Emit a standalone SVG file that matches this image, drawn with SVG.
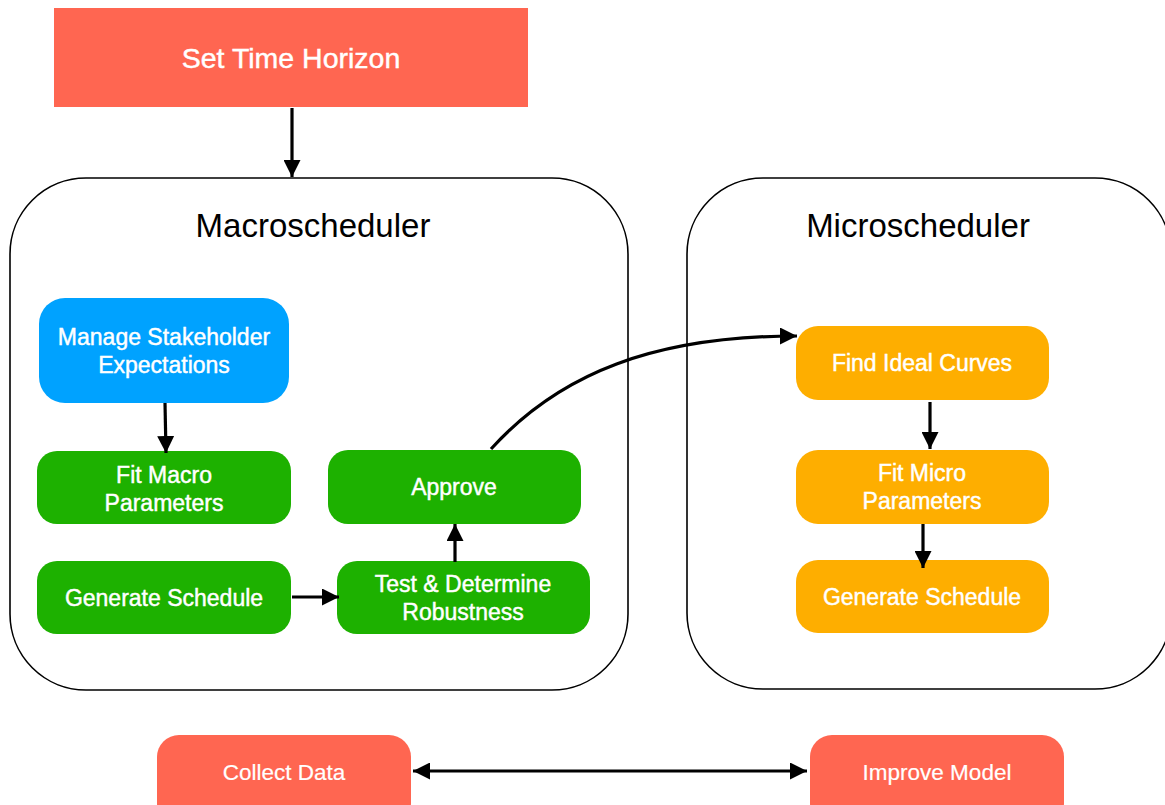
<svg xmlns="http://www.w3.org/2000/svg" width="1165" height="805" viewBox="0 0 1165 805">
  <style>
    .lbl { font-family: "Liberation Sans", Arial, sans-serif; font-size: 23px; fill: #ffffff; stroke: #ffffff; stroke-width: 0.45; text-anchor: middle; }
    .big { font-size: 28.5px; }
    .small { font-size: 22.5px; stroke-width: 0.2; }
    .title { font-family: "Liberation Sans", Arial, sans-serif; font-size: 33px; fill: #000000; text-anchor: middle; }
    .frame { fill: none; stroke: #000000; stroke-width: 1.6; }
    .green { fill: #1DB100; }
    .blue { fill: #00A2FF; }
    .orange { fill: #FEAE00; }
    .red { fill: #FF6651; }
    .edge { fill: none; stroke: #000000; stroke-width: 3.2; }
  </style>
  <defs>
    <marker id="arrow" markerUnits="userSpaceOnUse" markerWidth="17" markerHeight="17" refX="17" refY="8.5" orient="auto-start-reverse">
      <path d="M0,0 L17,8.5 L0,17 z" fill="#000000"/>
    </marker>
  </defs>

  <rect width="1165" height="805" fill="#ffffff"/>

  <!-- containers -->
  <g id="macroscheduler">
    <rect class="frame" x="10" y="178" width="618" height="512" rx="76" ry="76"/>
    <text class="title" x="313" y="237">Macroscheduler</text>
  </g>
  <g id="microscheduler">
    <rect class="frame" x="687" y="178" width="484" height="511" rx="76" ry="76"/>
    <text class="title" x="918" y="237">Microscheduler</text>
  </g>

  <!-- top step -->
  <g id="set-time-horizon">
    <rect class="red" x="54" y="8" width="474" height="99"/>
    <text class="lbl big" x="291" y="68">Set Time Horizon</text>
  </g>

  <!-- macro steps -->
  <g id="manage-stakeholder">
    <rect class="blue" x="39" y="298" width="250" height="105" rx="26"/>
    <text class="lbl" x="164" y="345">Manage Stakeholder</text>
    <text class="lbl" x="164" y="373">Expectations</text>
  </g>
  <g id="fit-macro">
    <rect class="green" x="37" y="451" width="254" height="73" rx="20"/>
    <text class="lbl" x="164" y="483">Fit Macro</text>
    <text class="lbl" x="164" y="511">Parameters</text>
  </g>
  <g id="generate-macro">
    <rect class="green" x="37" y="561" width="254" height="73" rx="20"/>
    <text class="lbl" x="164" y="606">Generate Schedule</text>
  </g>
  <g id="approve">
    <rect class="green" x="328" y="450" width="253" height="74" rx="20"/>
    <text class="lbl" x="454" y="495">Approve</text>
  </g>
  <g id="test-robustness">
    <rect class="green" x="337" y="561" width="253" height="73" rx="20"/>
    <text class="lbl" x="463" y="592">Test &amp; Determine</text>
    <text class="lbl" x="463" y="620">Robustness</text>
  </g>

  <!-- micro steps -->
  <g id="find-ideal-curves">
    <rect class="orange" x="796" y="326" width="253" height="74" rx="22"/>
    <text class="lbl" x="922" y="371">Find Ideal Curves</text>
  </g>
  <g id="fit-micro">
    <rect class="orange" x="796" y="450" width="253" height="74" rx="22"/>
    <text class="lbl" x="922" y="481">Fit Micro</text>
    <text class="lbl" x="922" y="509">Parameters</text>
  </g>
  <g id="generate-micro">
    <rect class="orange" x="796" y="560" width="253" height="73" rx="22"/>
    <text class="lbl" x="922" y="605">Generate Schedule</text>
  </g>

  <!-- feedback loop -->
  <g id="collect-data">
    <rect class="red" x="157" y="735" width="254" height="90" rx="22"/>
    <text class="lbl small" x="284" y="780">Collect Data</text>
  </g>
  <g id="improve-model">
    <rect class="red" x="810" y="735" width="254" height="90" rx="22"/>
    <text class="lbl small" x="937" y="780">Improve Model</text>
  </g>

  <!-- connectors -->
  <g id="connectors">
    <line class="edge" x1="292" y1="108" x2="292" y2="177" marker-end="url(#arrow)"/>
    <line class="edge" x1="165" y1="403" x2="166" y2="453" marker-end="url(#arrow)"/>
    <line class="edge" x1="292" y1="597" x2="339" y2="597" marker-end="url(#arrow)"/>
    <line class="edge" x1="455" y1="562" x2="455" y2="524" marker-end="url(#arrow)"/>
    <path class="edge" d="M491 449 C560 373, 655 336, 797 336" marker-end="url(#arrow)"/>
    <line class="edge" x1="930" y1="402" x2="930" y2="449" marker-end="url(#arrow)"/>
    <line class="edge" x1="923" y1="524" x2="923" y2="568" marker-end="url(#arrow)"/>
    <line class="edge" x1="413" y1="771" x2="807" y2="771" marker-start="url(#arrow)" marker-end="url(#arrow)"/>
  </g>
</svg>
